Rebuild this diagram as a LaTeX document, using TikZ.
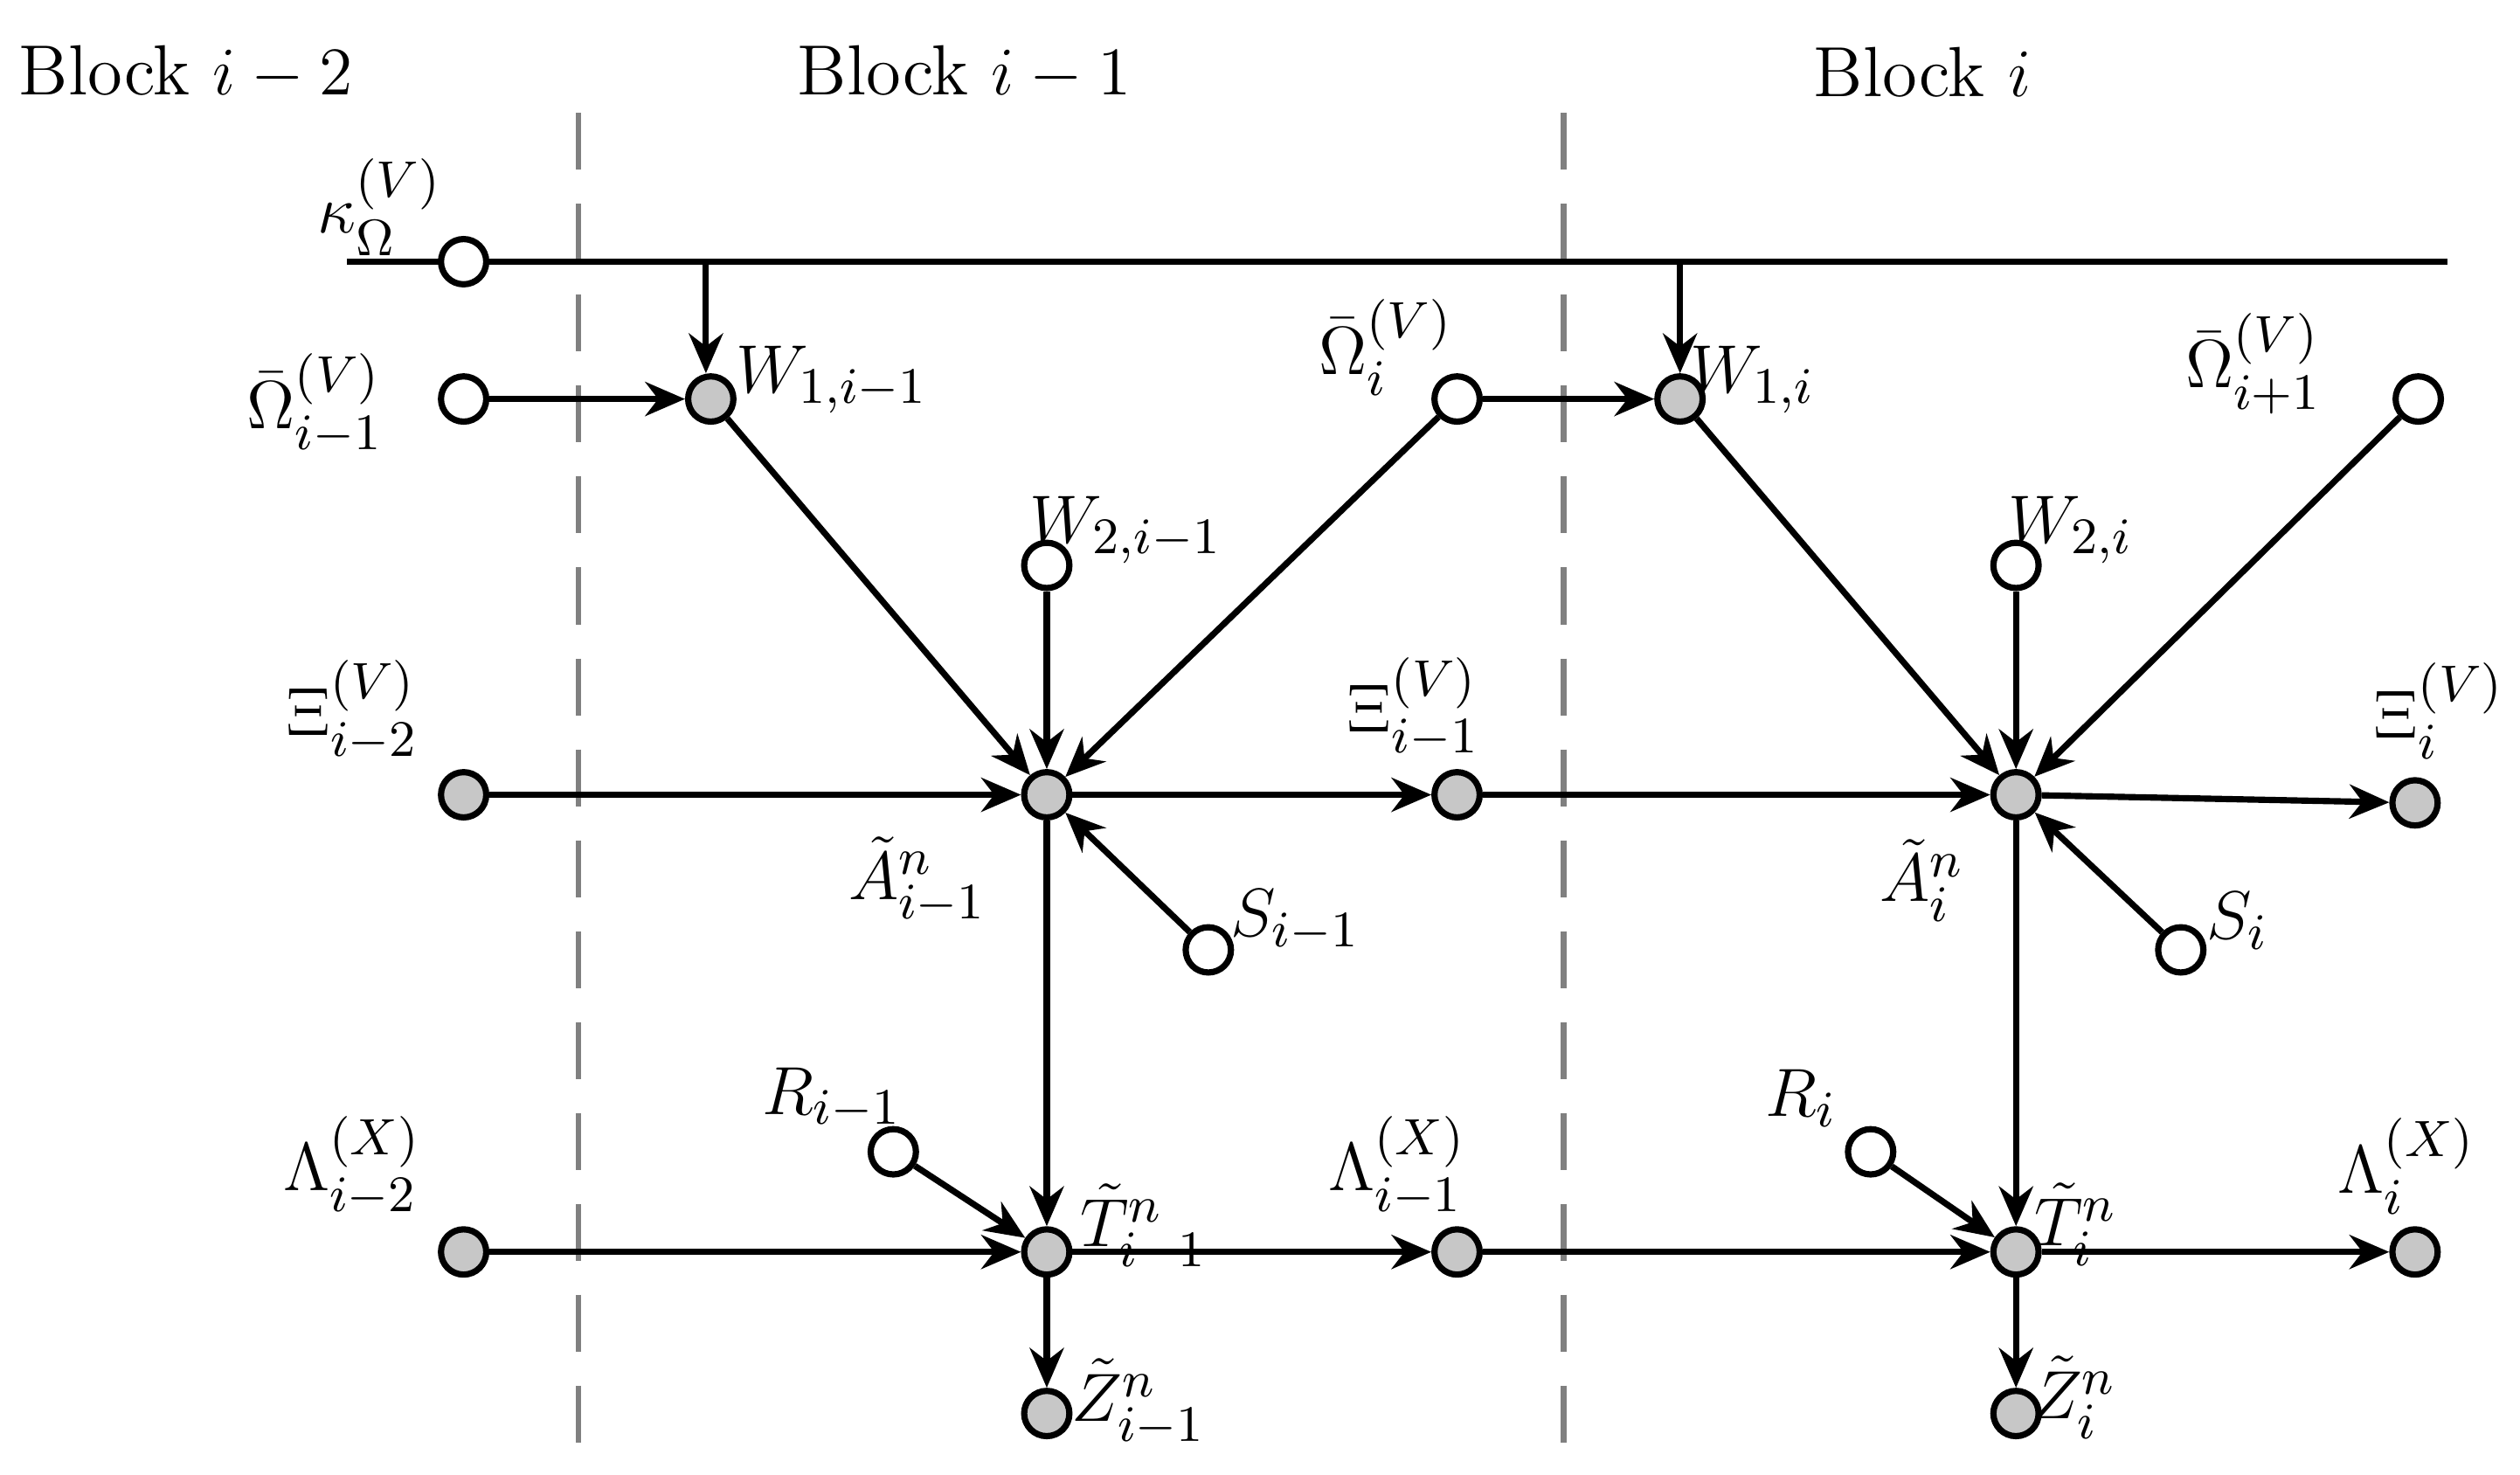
\documentclass[tikz,border=0pt]{standalone}
\usepackage{amsmath}
\usetikzlibrary{arrows.meta}
\begin{document}
\begin{tikzpicture}[x=0.01cm,y=-0.01cm,
 w/.style={circle,draw,line width=1.1pt,fill=white,minimum size=0.28cm,inner sep=0},
 g/.style={w,fill=black!22},
 a/.style={-{Stealth[length=7pt,width=6pt]},line width=1.1pt},
 lb/.style={font=\fontsize{12.5}{14}\selectfont}]
\useasboundingbox (0,0) rectangle (1560,913);
\draw[dashed,gray,line width=1pt,dash pattern=on 10pt off 6pt] (358,70)--(358,900) (968,70)--(968,900);
\node[lb] at (115,45) {Block $i-2$};
\node[lb] at (597,45) {Block $i-1$};
\node[lb] at (1190,45) {Block $i$};
\coordinate (ls) at (215,162); \coordinate (le) at (1515,162);
\coordinate (k1) at (437,162); \coordinate (k2) at (1040,162);
\draw[line width=1.1pt] (ls)--(le);
\node[w] (kap) at (287,162) {};
\node[w] (O1) at (287,247) {};
\node[g] (W11) at (440,247) {};
\node[w] (O2) at (902,247) {};
\node[g] (W12) at (1040,247) {};
\node[w] (O3) at (1497,247) {};
\node[w] (W21) at (648,350) {};
\node[w] (W22) at (1248,350) {};
\node[g] (X0) at (287,492) {};
\node[g] (A1) at (648,492) {};
\node[g] (X1) at (902,492) {};
\node[g] (A2) at (1248,492) {};
\node[g] (X2) at (1495,497) {};
\node[w] (S1) at (748,588) {};
\node[w] (S2) at (1350,588) {};
\node[w] (R1) at (553,713) {};
\node[w] (R2) at (1158,713) {};
\node[g] (L0) at (287,775) {};
\node[g] (T1) at (648,775) {};
\node[g] (L1) at (902,775) {};
\node[g] (T2) at (1248,775) {};
\node[g] (L2) at (1495,775) {};
\node[g] (Z1) at (648,875) {};
\node[g] (Z2) at (1248,875) {};
\draw[a] (k1)--(W11.north-|k1);
\draw[a] (k2)--(W12);
\draw[a] (O1)--(W11); \draw[a] (O2)--(W12);
\draw[a] (W11)--(A1); \draw[a] (O2)--(A1); \draw[a] (W21)--(A1);
\draw[a] (W12)--(A2); \draw[a] (O3)--(A2); \draw[a] (W22)--(A2);
\draw[a] (X0)--(A1); \draw[a] (A1)--(X1); \draw[a] (X1)--(A2); \draw[a] (A2)--(X2);
\draw[a] (S1)--(A1); \draw[a] (S2)--(A2);
\draw[a] (A1)--(T1); \draw[a] (A2)--(T2);
\draw[a] (R1)--(T1); \draw[a] (R2)--(T2);
\draw[a] (L0)--(T1); \draw[a] (T1)--(L1); \draw[a] (L1)--(T2); \draw[a] (T2)--(L2);
\draw[a] (T1)--(Z1); \draw[a] (T2)--(Z2);
\node[lb] at (235,128) {$\kappa_{\Omega}^{(V)}$};
\node[lb] at (195,250) {$\bar\Omega_{i-1}^{(V)}$};
\node[lb] at (515,235) {$W_{1,i-1}$};
\node[lb] at (858,215) {$\bar\Omega_{i}^{(V)}$};
\node[lb] at (1085,235) {$W_{1,i}$};
\node[lb] at (1395,225) {$\bar\Omega_{i+1}^{(V)}$};
\node[lb] at (697,328) {$W_{2,i-1}$};
\node[lb] at (1282,328) {$W_{2,i}$};
\node[lb] at (218,440) {$\Xi_{i-2}^{(V)}$};
\node[lb] at (875,438) {$\Xi_{i-1}^{(V)}$};
\node[lb] at (1510,440) {$\Xi_{i}^{(V)}$};
\node[lb] at (568,545) {$\tilde A_{i-1}^{n}$};
\node[lb] at (1190,545) {$\tilde A_{i}^{n}$};
\node[lb] at (802,570) {$S_{i-1}$};
\node[lb] at (1385,570) {$S_{i}$};
\node[lb] at (515,680) {$R_{i-1}$};
\node[lb] at (1115,680) {$R_{i}$};
\node[lb] at (708,760) {$\tilde T_{i-1}^{n}$};
\node[lb] at (1285,758) {$\tilde T_{i}^{n}$};
\node[lb] at (218,722) {$\Lambda_{i-2}^{(X)}$};
\node[lb] at (865,722) {$\Lambda_{i-1}^{(X)}$};
\node[lb] at (1490,722) {$\Lambda_{i}^{(X)}$};
\node[lb] at (705,868) {$\tilde Z_{i-1}^{n}$};
\node[lb] at (1284,865) {$\tilde Z_{i}^{n}$};
\end{tikzpicture}
\end{document}
